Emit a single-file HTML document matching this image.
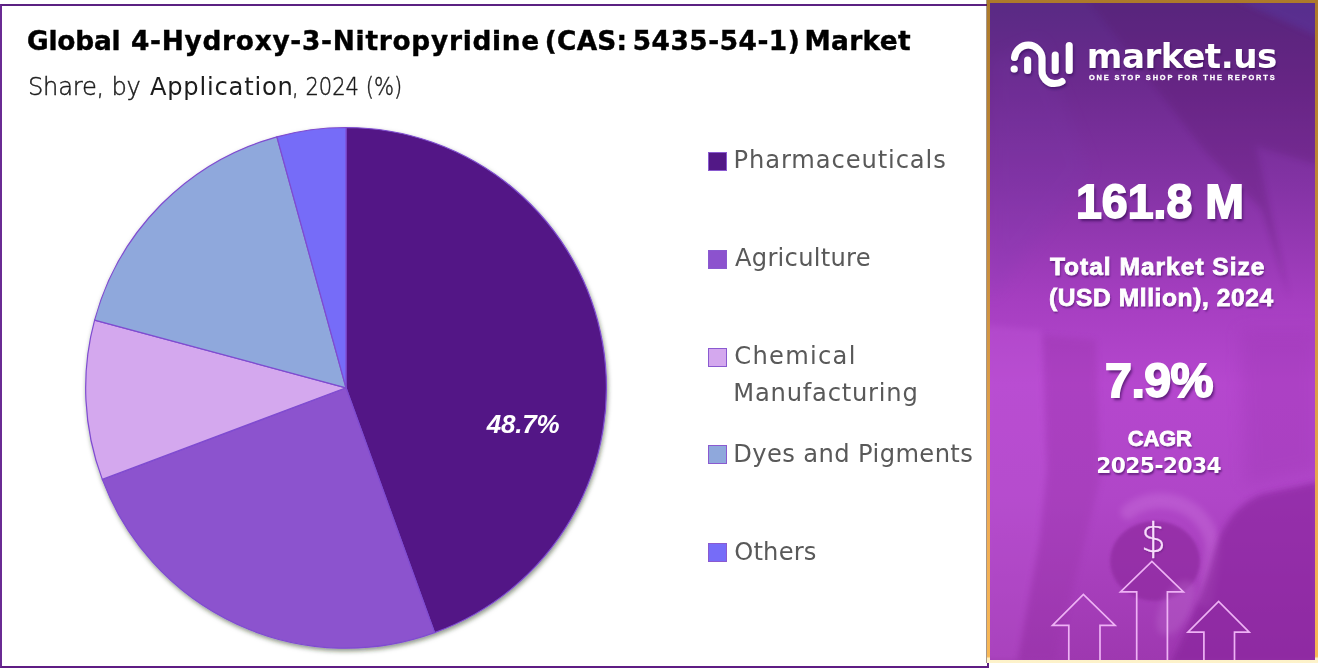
<!DOCTYPE html>
<html lang="en">
<head>
<meta charset="utf-8">
<title>Global 4-Hydroxy-3-Nitropyridine (CAS: 5435-54-1) Market</title>
<style>
html,body{margin:0;padding:0;background:#fff;}
body{width:1318px;height:668px;position:relative;overflow:hidden;font-family:"Liberation Sans",sans-serif;}
h1,h2,p,ul,li{margin:0;padding:0;font:inherit;list-style:none;}
.tx{position:absolute;white-space:pre;margin:0;}
#card{position:absolute;left:0;top:4px;width:985px;height:660px;border:2px solid #5b2182;border-left-color:#6a2a93;border-bottom-color:#5f1d84;background:#fff;}
#side{position:absolute;left:987px;top:0;width:325px;height:657px;border:3px solid #b98533;box-shadow:-1px 0 0 rgba(80,45,20,.5);
  border-image:linear-gradient(180deg,#ad7a2a 0%,#c48a3a 35%,#f0ac54 80%,#f8b856 99.3%,#fdf0c4 99.62%,#fdf3cc 100%) 1;
  background:linear-gradient(180deg,#592a84 0%,#6b2a8e 12%,#8433a5 28%,#a53ec0 45%,#b547ce 58%,#b046c8 75%,#9e38b0 100%);overflow:hidden;}
.mk{position:absolute;left:706px;width:17px;height:17px;border:1px solid #8a5ad0;}
svg{position:absolute;left:0;top:0;overflow:visible;}
#t1a{left:24.90px;top:22.40px;font:normal bold 26.4px/1 "DejaVu Sans", "Liberation Sans", sans-serif;letter-spacing:-0.17px;color:#000;-webkit-text-stroke:0.4px #000;}
#t1b{left:128.90px;top:22.40px;font:normal bold 26.4px/1 "DejaVu Sans", "Liberation Sans", sans-serif;letter-spacing:0.73px;color:#000;-webkit-text-stroke:0.4px #000;}
#t1c{left:542.80px;top:22.40px;font:normal bold 26.4px/1 "DejaVu Sans", "Liberation Sans", sans-serif;letter-spacing:0.21px;color:#000;-webkit-text-stroke:0.4px #000;}
#t1d{left:630.70px;top:22.40px;font:normal bold 26.4px/1 "DejaVu Sans", "Liberation Sans", sans-serif;letter-spacing:0.51px;color:#000;-webkit-text-stroke:0.4px #000;}
#t1e{left:802.40px;top:22.40px;font:normal bold 26.4px/1 "DejaVu Sans", "Liberation Sans", sans-serif;letter-spacing:0.37px;color:#000;-webkit-text-stroke:0.4px #000;}
#t2a{left:25.93px;top:69.00px;font:normal 200 24.2px/1 "DejaVu Sans", "Liberation Sans", sans-serif;letter-spacing:-0.23px;color:#1c1c1c;-webkit-text-stroke:0.45px #1c1c1c;}
#t2b{left:147.90px;top:69.00px;font:normal normal 24.2px/1 "DejaVu Sans", "Liberation Sans", sans-serif;letter-spacing:0.79px;color:#1c1c1c;}
#t2c{left:289.75px;top:69.00px;font:normal 200 24.2px/1 "DejaVu Sans", "Liberation Sans", sans-serif;color:#1c1c1c;-webkit-text-stroke:0.45px #1c1c1c;transform:scaleX(0.8711);transform-origin:0 0;}
#l1{left:731.50px;top:142.00px;font:normal normal 24.2px/1 "DejaVu Sans", "Liberation Sans", sans-serif;letter-spacing:0.89px;color:#595959;}
#l2{left:733.00px;top:240.00px;font:normal normal 24.2px/1 "DejaVu Sans", "Liberation Sans", sans-serif;letter-spacing:0.26px;color:#595959;}
#l3{left:732.30px;top:337.50px;font:normal normal 24.2px/1 "DejaVu Sans", "Liberation Sans", sans-serif;letter-spacing:1.27px;color:#595959;}
#l4{left:731.30px;top:375.20px;font:normal normal 24.2px/1 "DejaVu Sans", "Liberation Sans", sans-serif;letter-spacing:0.78px;color:#595959;}
#l5{left:731.30px;top:435.80px;font:normal normal 24.2px/1 "DejaVu Sans", "Liberation Sans", sans-serif;letter-spacing:0.39px;color:#595959;}
#l6{left:732.20px;top:533.80px;font:normal normal 24.2px/1 "DejaVu Sans", "Liberation Sans", sans-serif;letter-spacing:0.20px;color:#595959;}
#p1{left:484.80px;top:405.00px;font:italic bold 26px/1 "Liberation Sans", sans-serif;letter-spacing:-0.20px;color:#fff;}
#g1{left:96.80px;top:36.20px;font:normal bold 34.2px/1 "DejaVu Sans", "Liberation Sans", sans-serif;letter-spacing:-0.50px;color:#fff;text-shadow:1px 2px 2px rgba(40,0,70,.45);}
#g2{left:98.95px;top:70.80px;font:normal bold 7.4px/1 "Liberation Sans", sans-serif;letter-spacing:1.88px;color:#fff;-webkit-text-stroke:0.3px #fff;}
#r1{left:86.41px;top:174.40px;font:normal bold 49px/1 "Liberation Sans", sans-serif;color:#fff;-webkit-text-stroke:1.8px #fff;text-shadow:2px 3px 3px rgba(40,0,70,.6);transform:scaleX(0.9484);transform-origin:0 0;}
#r2{left:59.90px;top:252.30px;font:normal bold 24.6px/1 "Liberation Sans", sans-serif;letter-spacing:0.97px;color:#fff;-webkit-text-stroke:0.8px #fff;text-shadow:1px 2px 2px rgba(40,0,70,.5);}
#r3{left:58.90px;top:283.00px;font:normal bold 24.6px/1 "Liberation Sans", sans-serif;letter-spacing:0.57px;color:#fff;-webkit-text-stroke:0.8px #fff;text-shadow:1px 2px 2px rgba(40,0,70,.5);}
#r4{left:115.10px;top:353.20px;font:normal bold 48.4px/1 "Liberation Sans", sans-serif;letter-spacing:-0.59px;color:#fff;-webkit-text-stroke:1.8px #fff;text-shadow:2px 3px 3px rgba(40,0,70,.6);}
#r5{left:137.80px;top:425.20px;font:normal bold 22px/1 "Liberation Sans", sans-serif;letter-spacing:-0.26px;color:#fff;-webkit-text-stroke:0.8px #fff;text-shadow:1px 2px 2px rgba(40,0,70,.5);}
#r6{left:106.20px;top:452.40px;font:normal bold 21.8px/1 "DejaVu Sans", "Liberation Sans", sans-serif;letter-spacing:-0.61px;color:#fff;text-shadow:1px 2px 2px rgba(40,0,70,.5);}
#d1{left:150.65px;top:515.00px;font:normal 200 40px/1 "DejaVu Sans", "Liberation Sans", sans-serif;color:#f8defc;-webkit-text-stroke:0.3px #f8defc;text-shadow:1px 1px 2px rgba(40,0,70,.3);}
</style>
</head>
<body>
<section id="card">
<svg id="pie" width="985" height="660" viewBox="2 6 985 660" role="img" aria-label="Pie chart: share by application">
<defs><filter id="ds" x="-5%" y="-5%" width="110%" height="112%"><feDropShadow dx="1" dy="2.5" stdDeviation="2.3" flood-color="#203010" flood-opacity=".5"/></filter></defs>
<g filter="url(#ds)" stroke="#7f4cd0" stroke-width="1.2" stroke-linejoin="round">
<path d="M346.0 387.8L346.0 127.5A260.3 260.3 0 0 1 434.6 632.6Z" fill="#521886"/>
<path d="M346.0 387.8L434.6 632.6A260.3 260.3 0 0 1 102.3 479.4Z" fill="#8c52ce"/>
<path d="M346.0 387.8L102.3 479.4A260.3 260.3 0 0 1 94.6 320.2Z" fill="#d4a8ee"/>
<path d="M346.0 387.8L94.6 320.2A260.3 260.3 0 0 1 276.9 136.8Z" fill="#8fa8dc"/>
<path d="M346.0 387.8L276.9 136.8A260.3 260.3 0 0 1 346.0 127.5Z" fill="#766cf8"/>
</g>
</svg>
<h1><span class="tx" id="t1a">Global</span> <span class="tx" id="t1b">4-Hydroxy-3-Nitropyridine</span> <span class="tx" id="t1c">(CAS:</span> <span class="tx" id="t1d">5435-54-1)</span> <span class="tx" id="t1e">Market</span></h1>
<h2><span class="tx" id="t2a">Share, by</span> <span class="tx" id="t2b">Application</span><span class="tx" id="t2c">, 2024 (%)</span></h2>
<ul id="legend">
<li><span class="mk" style="top:146px;background:#521886"></span><span class="tx" id="l1">Pharmaceuticals</span></li>
<li><span class="mk" style="top:244px;background:#8c52ce"></span><span class="tx" id="l2">Agriculture</span></li>
<li><span class="mk" style="top:341.5px;background:#d4a8ee"></span><span class="tx" id="l3">Chemical</span> <span class="tx" id="l4">Manufacturing</span></li>
<li><span class="mk" style="top:439.2px;background:#8fa8dc"></span><span class="tx" id="l5">Dyes and Pigments</span></li>
<li><span class="mk" style="top:537px;background:#766cf8"></span><span class="tx" id="l6">Others</span></li>
</ul>
<div class="tx" id="p1">48.7%</div>
</section>
<aside id="side">
<svg id="sidebg" width="325" height="657.5" viewBox="990 3 325 657.5" aria-hidden="true">
<defs>
<filter id="bl8" x="-30%" y="-30%" width="160%" height="160%"><feGaussianBlur stdDeviation="8"/></filter>
<filter id="bl3" x="-30%" y="-30%" width="160%" height="160%"><feGaussianBlur stdDeviation="3"/></filter>
<filter id="bl2" x="-30%" y="-30%" width="160%" height="160%"><feGaussianBlur stdDeviation="1.8"/></filter>
</defs>
<polygon points="1088,0 1237,0 1318,36 1318,165 1256,146 1290,300 1262,210 1204,150" fill="#561466" opacity=".24" filter="url(#bl3)"/>
<polygon points="1237,0 1318,0 1318,36" fill="#5538a0" opacity=".35" filter="url(#bl3)"/>
<polygon points="990,60 1040,40 1090,170 990,300" fill="#7a3cb0" opacity=".16" filter="url(#bl8)"/>
<polygon points="985,325 1042,330 1047,470 1040,540 1018,661 985,661" fill="#c45cdc" opacity=".3" filter="url(#bl3)"/>
<polygon points="1043,335 1096,340 1100,480 1085,540 1055,661 1018,661 1040,540 1047,470" fill="#9630a6" opacity=".3" filter="url(#bl3)"/>
<polygon points="1240,330 1318,330 1318,470 1245,485" fill="#9a34b0" opacity=".3" filter="url(#bl8)"/>
<path d="M1128 512A52 50 0 0 1 1212 560L1205 600" fill="none" stroke="#cf7ae0" stroke-width="15" stroke-linecap="round" opacity=".34" filter="url(#bl3)"/>
<ellipse cx="1155" cy="561" rx="45" ry="40" fill="#8f2aa0" opacity=".72" filter="url(#bl2)"/>
<path d="M1212 560C1222 520 1240 503 1262 494L1318 482V664H1170C1186 630 1202 596 1212 560Z" fill="#86249a" opacity=".62" filter="url(#bl3)"/>
<ellipse cx="1176" cy="608" rx="15" ry="30" transform="rotate(28 1176 608)" fill="#c070d0" opacity=".32" filter="url(#bl3)"/>

</svg>
<svg id="logo" width="325" height="657.5" viewBox="990 3 325 657.5" aria-hidden="true">
<defs><filter id="ls" x="-20%" y="-20%" width="140%" height="150%"><feDropShadow dx="1" dy="2" stdDeviation="1.5" flood-color="#2a0050" flood-opacity=".55"/></filter></defs>
<g filter="url(#ls)" fill="none" stroke="#fff" stroke-width="7" stroke-linecap="round" stroke-linejoin="round">
<path d="M1014.5 57.5A13.8 13.8 0 0 1 1042 58V70.5A12.5 12.5 0 0 0 1054.5 83.6Q1059 83.6 1062 81.5"/>
<path d="M1027.6 60V70.5"/>
<path d="M1055.2 55V70.5"/>
<path d="M1069.2 45.5V70.5"/>
<circle cx="1014.2" cy="69" r="3.6" fill="#fff" stroke="none"/>
</g>
<g fill="none" stroke="#eeb2f5" stroke-width="1.7" stroke-linejoin="miter">
<path d="M1136.7 661V591.8H1120.5L1151.9 561.4L1183.4 591.8H1167.4V661"/>
<path d="M1068.8 661V625.4H1052.5L1083.4 594.5L1115.1 625.4H1100V661"/>
<path d="M1203.9 661V632.1H1187.9L1218.6 601.4L1249.2 632.1H1234.5V661"/>
</g>
</svg>
<div class="tx" id="g1">market.us</div>
<div class="tx" id="g2">ONE STOP SHOP FOR THE REPORTS</div>
<div class="tx" id="r1">161.8 M</div>
<p><span class="tx" id="r2">Total Market Size</span> <span class="tx" id="r3">(USD Mllion), 2024</span></p>
<div class="tx" id="r4">7.9%</div>
<p><span class="tx" id="r5">CAGR</span> <span class="tx" id="r6">2025-2034</span></p>
<div class="tx" id="d1">$</div>
</aside>
</body>
</html>
